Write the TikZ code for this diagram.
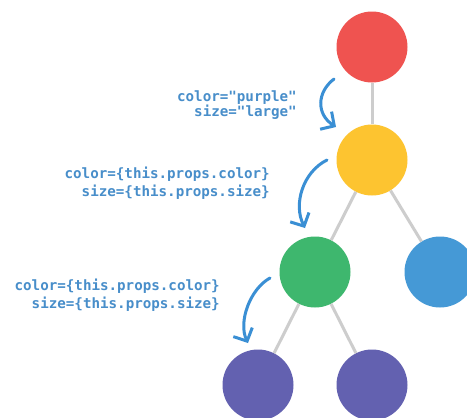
\documentclass[tikz,border=0pt]{standalone}
\usepackage{fontspec}
\setmonofont{DejaVu Sans Mono}
\usetikzlibrary{arrows.meta}
\definecolor{cred}{RGB}{239,83,80}
\definecolor{cyellow}{RGB}{253,196,48}
\definecolor{cgreen}{RGB}{62,183,110}
\definecolor{cblue}{RGB}{69,153,214}
\definecolor{cpurple}{RGB}{99,97,176}
\definecolor{cline}{RGB}{205,205,205}
\definecolor{ctext}{RGB}{72,142,202}
\definecolor{carrow}{RGB}{58,143,212}
\tikzset{
  ball/.style={circle, fill=#1, minimum size=71pt, inner sep=0pt},
  edge/.style={draw=cline, line width=3pt},
  flow/.style={draw=carrow, line width=3pt, line cap=round, -{Straight Barb[length=10pt,width=21pt,line width=3pt]}},
  code/.style={font=\ttfamily\bfseries\fontsize{14.2}{17}\selectfont, text=ctext, inner sep=0pt, anchor=base east}
}
\begin{document}
\begin{tikzpicture}[x=1pt,y=-1pt]
\useasboundingbox (0,0) rectangle (467,418);
\fill[white] (0,0) rectangle (467,418);
% nodes
\node[ball=cred] (red) at (372,47) {};
\node[ball=cyellow] (yellow) at (372,160) {};
\node[ball=cgreen] (green) at (315,272) {};
\node[ball=cblue] (blue) at (440,272) {};
\node[ball=cpurple] (pl) at (258,385) {};
\node[ball=cpurple] (pr) at (372,385) {};
% edges
\draw[edge] (red) -- (yellow);
\draw[edge] (yellow) -- (green);
\draw[edge] (yellow) -- (blue);
\draw[edge] (green) -- (pl);
\draw[edge] (green) -- (pr);
% arrows
\coordinate (a1s) at (334,79);
\coordinate (a1e) at (336,127);
\coordinate (a2s) at (327,160);
\coordinate (a2e) at (305,228);
\coordinate (a3s) at (270,278);
\coordinate (a3e) at (248,343);
\draw[flow] (a1s) .. controls (317,92) and (316,114) .. (a1e);
\draw[flow] (a2s) .. controls (303,172) and (293,204) .. (a2e);
\draw[flow] (a3s) .. controls (250,289) and (238,322) .. (a3e);
% texts
\node[code] (t1a) at (297,101) {color="purple"};
\node[code] (t1b) at (297,116) {size="large"};
\node[code] (t2a) at (270,178.5) {color=\{this.props.color\}};
\node[code] (t2b) at (270,196) {size=\{this.props.size\}};
\node[code] (t3a) at (220,290.5) {color=\{this.props.color\}};
\node[code] (t3b) at (220,308) {size=\{this.props.size\}};
\end{tikzpicture}
\end{document}
